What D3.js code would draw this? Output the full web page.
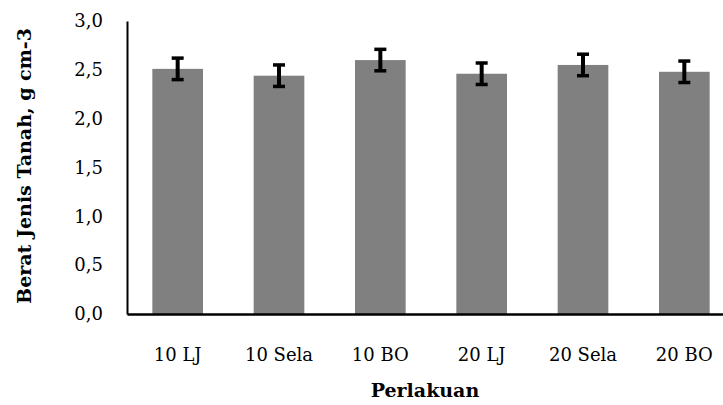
<!DOCTYPE html>
<html>
<head>
<meta charset="utf-8">
<script src="https://cdn.jsdelivr.net/npm/d3@7"></script>
<style>
    body { margin: 0; background: #fff; }
    text { font-family: "DejaVu Serif", "Liberation Serif", serif; fill: #000; }
</style>
</head>
<body>
<div id="chart"></div>
<script>
// values
const categories = ["10 LJ", "10 Sela", "10 BO", "20 LJ", "20 Sela", "20 BO"];
const means = [2.51, 2.44, 2.60, 2.46, 2.55, 2.48];
const errors = [0.11, 0.11, 0.11, 0.11, 0.11, 0.11];
const yTicks = [0, 0.5, 1.0, 1.5, 2.0, 2.5, 3.0];

const W = 723, H = 405;
const svg = d3.select("#chart").append("svg")
    .attr("width", W).attr("height", H);

// plot area (right end runs off the image like in the reference)
let x = d3.scaleBand().domain(categories).range([127, 735]).paddingInner(0.5).paddingOuter(0.25);
let y = d3.scaleLinear().domain([0, 3]).range([314, 21]);

let fmt = d => d3.format(".1f")(d).replace(".", ",");

// bars
svg.append("g").selectAll("rect")
    .data(categories)
    .enter().append("rect")
    .attr("x", d => x(d))
    .attr("y", (d, i) => y(means[i]))
    .attr("width", x.bandwidth())
    .attr("height", (d, i) => y(0) - y(means[i]))
    .attr("fill", "#808080");

// error bars
let eb = svg.append("g").selectAll("g")
    .data(categories)
    .enter().append("g")
    .attr("transform", d => "translate(" + (x(d) + x.bandwidth() / 2) + ",0)");

eb.append("line")
    .attr("y1", (d, i) => y(means[i] + errors[i]))
    .attr("y2", (d, i) => y(means[i] - errors[i]))
    .attr("stroke", "#000").attr("stroke-width", 4);
eb.append("line")
    .attr("x1", -6).attr("x2", 6)
    .attr("y1", (d, i) => y(means[i] + errors[i]))
    .attr("y2", (d, i) => y(means[i] + errors[i]))
    .attr("stroke", "#000").attr("stroke-width", 3.5);
eb.append("line")
    .attr("x1", -6).attr("x2", 6)
    .attr("y1", (d, i) => y(means[i] - errors[i]))
    .attr("y2", (d, i) => y(means[i] - errors[i]))
    .attr("stroke", "#000").attr("stroke-width", 3.5);

// axes
let yAxis = d3.axisLeft(y).tickValues(yTicks).tickFormat(fmt).tickSize(0).tickPadding(24);
let gy = svg.append("g").attr("transform", "translate(127,0)").call(yAxis);
gy.select(".domain").attr("stroke", "#000").attr("stroke-width", 2);
gy.attr("font-family", null).attr("font-size", null);
gy.selectAll("text").style("font-size", "18px");

let xAxis = d3.axisBottom(x).tickSize(0).tickPadding(34);
let gx = svg.append("g").attr("transform", "translate(0,314)").call(xAxis);
gx.select(".domain").attr("stroke", "#000").attr("stroke-width", 2.5);
gx.attr("font-family", null).attr("font-size", null);
gx.selectAll("text").style("font-size", "18px");

// titles
svg.append("text")
    .attr("transform", "translate(31,166) rotate(-90)")
    .attr("text-anchor", "middle")
    .style("font-size", "19px").attr("font-weight", "bold")
    .text("Berat Jenis Tanah, g cm-3");

svg.append("text")
    .attr("x", 425).attr("y", 397)
    .attr("text-anchor", "middle")
    .style("font-size", "19px").attr("font-weight", "bold")
    .text("Perlakuan");
</script>
</body>
</html>
